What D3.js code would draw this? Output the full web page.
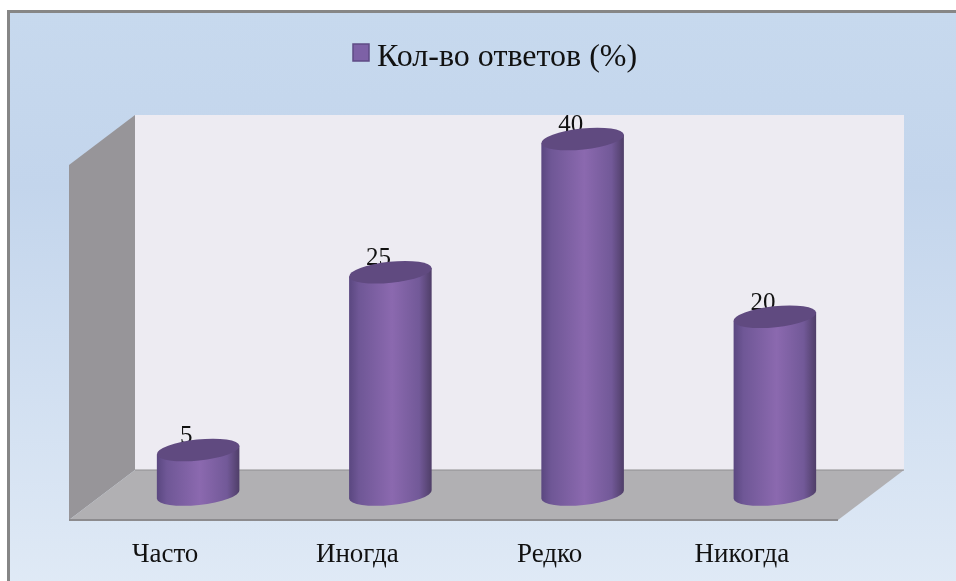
<!DOCTYPE html>
<html>
<head>
<meta charset="utf-8">
<style>
  html, body { margin: 0; padding: 0; background: #fff; overflow: hidden; }
  svg { display: block; filter: blur(0.4px); }
  text { font-family: "Liberation Serif", serif; fill: #111; }
</style>
<script src="https://cdnjs.cloudflare.com/ajax/libs/d3/7.8.5/d3.min.js"></script>
</head>
<body>
<script>
// data
var categories = ["Часто", "Иногда", "Редко", "Никогда"];
var values = [5, 25, 40, 20];
var seriesName = "Кол-во ответов (%)";

var width = 956, height = 581;

// the 3d box: front edge, plus the shift to the back wall
var front = {left: 69, right: 838, y: 520};
var depth = {x: 66, y: -50};
var wallTop = 165;
var barShift = 33;
var rx = 41.5, ry = 10.5, tilt = -6;

var svg = d3.select("body").append("svg")
    .attr("width", width)
    .attr("height", height);

var defs = svg.append("defs");

var bg = defs.append("linearGradient").attr("id", "bg")
    .attr("x1", 0).attr("y1", 0).attr("x2", 0).attr("y2", 1);
bg.append("stop").attr("offset", "0%").attr("stop-color", "#c7d9ee");
bg.append("stop").attr("offset", "30%").attr("stop-color", "#c3d5ec");
bg.append("stop").attr("offset", "100%").attr("stop-color", "#e0eaf6");

var barFill = defs.append("linearGradient").attr("id", "barFill")
    .attr("x1", 0).attr("y1", 0).attr("x2", 1).attr("y2", 0);
[[0, "#5a4780"], [0.12, "#6f5796"], [0.52, "#8b69af"], [0.85, "#725998"], [1, "#4f3e68"]].forEach(function(s) {
  barFill.append("stop").attr("offset", s[0]).attr("stop-color", s[1]);
});

// panel
svg.append("rect")
    .attr("x", 8.5).attr("y", 11.5)
    .attr("width", width).attr("height", height)
    .attr("fill", "url(#bg)")
    .attr("stroke", "#868686")
    .attr("stroke-width", 3);

// back wall, side wall, floor
svg.append("rect")
    .attr("x", front.left + depth.x)
    .attr("y", wallTop + depth.y)
    .attr("width", front.right - front.left)
    .attr("height", front.y - wallTop)
    .attr("fill", "#edebf2");

svg.append("path")
    .attr("d", d3.line()([
      [front.left, wallTop],
      [front.left + depth.x, wallTop + depth.y],
      [front.left + depth.x, front.y + depth.y],
      [front.left, front.y]
    ]) + "Z")
    .attr("fill", "#979599");

svg.append("path")
    .attr("d", d3.line()([
      [front.left, front.y],
      [front.left + depth.x, front.y + depth.y],
      [front.right + depth.x, front.y + depth.y],
      [front.right, front.y]
    ]) + "Z")
    .attr("fill", "#b1b0b3");

svg.append("line")
    .attr("x1", front.left + depth.x).attr("x2", front.right + depth.x)
    .attr("y1", front.y + depth.y).attr("y2", front.y + depth.y)
    .attr("stroke", "#8f8e91");

svg.append("line")
    .attr("x1", front.left).attr("x2", front.right)
    .attr("y1", front.y).attr("y2", front.y)
    .attr("stroke", "#8c8b8e")
    .attr("stroke-width", 2);

// scales
var x = d3.scaleBand()
    .domain(categories)
    .range([front.left, front.right]);

var y = d3.scaleLinear()
    .domain([0, 40])
    .range([494.5, 139]);

var xAxis = d3.axisBottom(x).tickSize(0).tickPadding(0);

var axisGroup = svg.append("g")
    .attr("transform", "translate(0," + front.y + ")")
    .call(xAxis);
axisGroup.select(".domain").remove();
axisGroup.selectAll("text")
    .attr("y", 42)
    .attr("dy", 0)
    .style("font-family", '"Liberation Serif", serif')
    .style("font-size", "27px")
    .style("fill", "#111");

// value labels go under the cylinder tops
var bars = svg.selectAll(".bar")
    .data(categories.map(function(c, i) { return {name: c, value: values[i]}; }))
    .enter().append("g")
    .attr("class", "bar")
    .attr("transform", function(d) {
      return "translate(" + (x(d.name) + x.bandwidth() / 2 + barShift) + ",0)";
    });

bars.append("text")
    .attr("x", -12)
    .attr("y", function(d) { return y(d.value) - 7; })
    .attr("text-anchor", "middle")
    .style("font-size", "25px")
    .text(function(d) { return d.value; });

// tips of a tilted ellipse sit a little off its centre line
var tipY = rx * Math.sin(-tilt * Math.PI / 180);
var tipX = rx * Math.cos(tilt * Math.PI / 180);

bars.append("path")
    .attr("d", function(d) {
      var top = y(d.value), bottom = y(0);
      return "M" + (-tipX) + "," + (top + tipY) +
        "L" + (-tipX) + "," + (bottom + tipY) +
        "A" + rx + "," + ry + " " + tilt + " 0 0 " + tipX + "," + (bottom - tipY) +
        "L" + tipX + "," + (top - tipY) + "Z";
    })
    .attr("fill", "url(#barFill)");

bars.append("ellipse")
    .attr("rx", rx)
    .attr("ry", ry)
    .attr("transform", function(d) {
      return "translate(0," + y(d.value) + ") rotate(" + tilt + ")";
    })
    .attr("fill", "#604a80");

// legend
svg.append("rect")
    .attr("x", 353).attr("y", 44)
    .attr("width", 16).attr("height", 17)
    .attr("fill", "#7d61a6")
    .attr("stroke", "#5f4b85")
    .attr("stroke-width", 1.5);

svg.append("text")
    .attr("x", 377).attr("y", 66)
    .style("font-size", "32px")
    .text(seriesName);
</script>
</body>
</html>
